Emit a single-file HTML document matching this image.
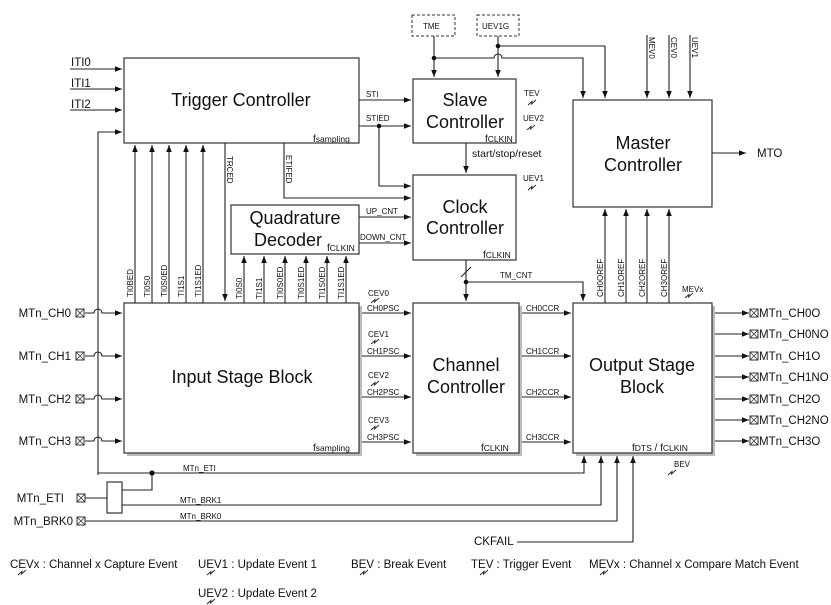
<!DOCTYPE html>
<html><head><meta charset="utf-8"><style>
html,body{margin:0;padding:0;background:#fff}
svg{display:block}
text{font-family:"Liberation Sans",sans-serif;fill:#111}
.t{font-size:18px;text-anchor:middle}
.s{font-size:8px}
.m{font-size:10.5px}
.l{font-size:11.5px}
</style></head><body>
<svg width="831" height="605" viewBox="0 0 831 605" xmlns="http://www.w3.org/2000/svg">
<defs>
<marker id="a" viewBox="0 0 10 10" refX="10" refY="5" markerWidth="7" markerHeight="7" markerUnits="userSpaceOnUse" orient="auto"><path d="M0,1 L10,5 L0,9z" fill="#111"/></marker>
<g id="z"><path d="M0,6 L4,2.5 L3.5,5 L8,1" fill="none" stroke="#222" stroke-width="0.9"/></g>
<g id="x"><rect x="0" y="0" width="8" height="8" fill="#fff" stroke="#333" stroke-width="1"/><path d="M0,0 L8,8 M8,0 L0,8" stroke="#333" stroke-width="0.8"/></g>
</defs>
<g fill="none" stroke="#333" stroke-width="1.2">
<rect x="127" y="306" width="235" height="150" fill="#bbb" stroke="none"/>
<rect x="416" y="306" width="106" height="150" fill="#bbb" stroke="none"/>
<rect x="576" y="306" width="139" height="150" fill="#bbb" stroke="none"/>
<rect x="124" y="58" width="235" height="85" fill="#fff"/>
<rect x="413" y="79" width="103" height="64" fill="#fff"/>
<rect x="413" y="175" width="103" height="85" fill="#fff"/>
<rect x="573" y="100" width="139" height="107" fill="#fff"/>
<rect x="231" y="205" width="128" height="49" fill="#fff"/>
<rect x="124" y="303" width="235" height="150" fill="#fff"/>
<rect x="413" y="303" width="106" height="150" fill="#fff"/>
<rect x="573" y="303" width="139" height="150" fill="#fff"/>
<rect x="412" y="15" width="43" height="21" stroke-dasharray="3,2" stroke-width="1"/>
<rect x="477" y="15" width="42" height="21" stroke-dasharray="3,2" stroke-width="1"/>
<rect x="107" y="482" width="15" height="31" fill="#fff"/>
</g>
<g fill="none" stroke="#222" stroke-width="1.1">
<path d="M70,69H122" marker-end="url(#a)"/>
<path d="M70,89H122" marker-end="url(#a)"/>
<path d="M70,110H122" marker-end="url(#a)"/>
<path d="M98,475V132H122" marker-end="url(#a)"/>
<path d="M359,100H411" marker-end="url(#a)"/>
<path d="M359,126H411" marker-end="url(#a)"/>
<path d="M379,126V186H411" marker-end="url(#a)"/>
<path d="M284,143V198H411" marker-end="url(#a)"/>
<path d="M359,217H411" marker-end="url(#a)"/>
<path d="M359,243H411" marker-end="url(#a)"/>
<path d="M434,36V77" marker-end="url(#a)"/>
<path d="M434,58H494 A4,4 0 0 1 502,58 H583V98" marker-end="url(#a)"/>
<path d="M498,36V77" marker-end="url(#a)"/>
<path d="M498,46H605V98" marker-end="url(#a)"/>
<path d="M647,35V98" marker-end="url(#a)"/>
<path d="M669,35V98" marker-end="url(#a)"/>
<path d="M690,35V98" marker-end="url(#a)"/>
<path d="M712,153H746" marker-end="url(#a)"/>
<path d="M466,143V173" marker-end="url(#a)"/>
<path d="M466,260V301" marker-end="url(#a)"/>
<path d="M461,277L471,267"/>
<path d="M466,282H583V301" marker-end="url(#a)"/>
<path d="M605,303V209" marker-end="url(#a)"/>
<path d="M626,303V209" marker-end="url(#a)"/>
<path d="M647,303V209" marker-end="url(#a)"/>
<path d="M669,303V209" marker-end="url(#a)"/>
<path d="M135,303V145" marker-end="url(#a)"/>
<path d="M152,303V145" marker-end="url(#a)"/>
<path d="M169,303V145" marker-end="url(#a)"/>
<path d="M186,303V145" marker-end="url(#a)"/>
<path d="M203,303V145" marker-end="url(#a)"/>
<path d="M225,143V301" marker-end="url(#a)"/>
<path d="M244,303V256" marker-end="url(#a)"/>
<path d="M264,303V256" marker-end="url(#a)"/>
<path d="M285,303V256" marker-end="url(#a)"/>
<path d="M306,303V256" marker-end="url(#a)"/>
<path d="M327,303V256" marker-end="url(#a)"/>
<path d="M346,303V256" marker-end="url(#a)"/>
<path d="M85,313H94A4,4 0 0 1 102,313H122" marker-end="url(#a)"/>
<path d="M85,356H94A4,4 0 0 1 102,356H122" marker-end="url(#a)"/>
<path d="M85,399H94A4,4 0 0 1 102,399H122" marker-end="url(#a)"/>
<path d="M85,441H94A4,4 0 0 1 102,441H122" marker-end="url(#a)"/>
<path d="M362,313H411" marker-end="url(#a)"/>
<path d="M362,356H411" marker-end="url(#a)"/>
<path d="M362,397H411" marker-end="url(#a)"/>
<path d="M362,442H411" marker-end="url(#a)"/>
<path d="M522,313H571" marker-end="url(#a)"/>
<path d="M522,356H571" marker-end="url(#a)"/>
<path d="M522,397H571" marker-end="url(#a)"/>
<path d="M522,442H571" marker-end="url(#a)"/>
<path d="M715,313H749" marker-end="url(#a)"/>
<path d="M715,334H749" marker-end="url(#a)"/>
<path d="M715,356H749" marker-end="url(#a)"/>
<path d="M715,377H749" marker-end="url(#a)"/>
<path d="M715,399H749" marker-end="url(#a)"/>
<path d="M715,420H749" marker-end="url(#a)"/>
<path d="M715,441H749" marker-end="url(#a)"/>
<path d="M98,473H584V456" marker-end="url(#a)"/>
<path d="M122,490H152V473"/>
<path d="M85,498H107"/>
<path d="M122,505H601V456" marker-end="url(#a)"/>
<path d="M85,521H617V456" marker-end="url(#a)"/>
<path d="M517,542H633V456" marker-end="url(#a)"/>
</g>
<g fill="#111">
<circle cx="379" cy="126" r="2.3"/><circle cx="434" cy="58" r="2.3"/><circle cx="498" cy="46" r="2.3"/>
<circle cx="466" cy="282" r="2.3"/><circle cx="152" cy="473" r="2.6"/>
</g>
<use href="#x" x="76" y="309"/><use href="#x" x="76" y="352"/><use href="#x" x="76" y="395"/><use href="#x" x="76" y="437"/>
<use href="#x" x="77" y="494"/><use href="#x" x="77" y="517"/>
<use href="#x" x="750" y="309"/><use href="#x" x="750" y="330"/><use href="#x" x="750" y="352"/><use href="#x" x="750" y="373"/><use href="#x" x="750" y="395"/><use href="#x" x="750" y="416"/><use href="#x" x="750" y="437"/>
<use href="#z" x="528" y="99"/><use href="#z" x="527" y="124"/><use href="#z" x="528" y="184"/>
<use href="#z" x="685" y="292"/><use href="#z" x="668" y="469"/>
<use href="#z" x="371" y="297"/><use href="#z" x="371" y="338"/><use href="#z" x="371" y="380"/><use href="#z" x="371" y="424"/>
<use href="#z" x="18" y="569"/><use href="#z" x="207" y="569"/><use href="#z" x="207" y="598"/><use href="#z" x="360" y="569"/><use href="#z" x="480" y="569"/><use href="#z" x="600" y="569"/>
<text class="t" x="241" y="106">Trigger Controller</text>
<text class="t" x="465" y="106">Slave</text><text class="t" x="465" y="128">Controller</text>
<text class="t" x="465" y="213">Clock</text><text class="t" x="465" y="234">Controller</text>
<text class="t" x="643" y="149">Master</text><text class="t" x="643" y="171">Controller</text>
<text class="t" x="295" y="224">Quadrature</text><text class="t" x="288" y="246">Decoder</text>
<text class="t" x="242" y="383">Input Stage Block</text>
<text class="t" x="466" y="371">Channel</text><text class="t" x="466" y="393">Controller</text>
<text class="t" x="642" y="371">Output Stage</text><text class="t" x="642" y="393">Block</text>
<text x="313" y="142" style="font-size:10px">f<tspan style="font-size:8.5px">sampling</tspan></text>
<text x="485" y="142" style="font-size:10px">f<tspan style="font-size:8.5px">CLKIN</tspan></text>
<text x="483" y="258" style="font-size:10px">f<tspan style="font-size:8.5px">CLKIN</tspan></text>
<text x="327" y="251" style="font-size:10px">f<tspan style="font-size:8.5px">CLKIN</tspan></text>
<text x="313" y="451" style="font-size:10px">f<tspan style="font-size:8.5px">sampling</tspan></text>
<text x="481" y="451" style="font-size:10px">f<tspan style="font-size:8.5px">CLKIN</tspan></text>
<text x="632" y="451" style="font-size:10px">f<tspan style="font-size:8.5px">DTS</tspan> / f<tspan style="font-size:8.5px">CLKIN</tspan></text>
<text class="s" x="366" y="97">STI</text>
<text class="s" x="366" y="121">STIED</text>
<text class="s" x="366" y="214">UP_CNT</text>
<text class="s" x="360" y="240">DOWN_CNT</text>
<text class="s" x="423" y="29">TME</text>
<text class="s" x="482" y="29">UEV1G</text>
<text class="s" x="524" y="96">TEV</text>
<text class="s" x="523" y="121">UEV2</text>
<text class="s" x="523" y="181">UEV1</text>
<text class="m" x="472" y="157">start/stop/reset</text>
<text class="s" x="500" y="278">TM_CNT</text>
<text class="s" x="682" y="292">MEVx</text>
<text class="s" x="674" y="467">BEV</text>
<text class="s" x="368" y="296">CEV0</text><text class="s" x="367" y="311">CH0PSC</text>
<text class="s" x="368" y="337">CEV1</text><text class="s" x="367" y="354">CH1PSC</text>
<text class="s" x="368" y="378">CEV2</text><text class="s" x="367" y="395">CH2PSC</text>
<text class="s" x="368" y="423">CEV3</text><text class="s" x="367" y="440">CH3PSC</text>
<text class="s" x="526" y="311">CH0CCR</text><text class="s" x="526" y="354">CH1CCR</text>
<text class="s" x="526" y="395">CH2CCR</text><text class="s" x="526" y="440">CH3CCR</text>
<text class="s" x="183" y="471">MTn_ETI</text>
<text class="s" x="180" y="503">MTn_BRK1</text>
<text class="s" x="180" y="519">MTn_BRK0</text>
<text class="l" x="757" y="157">MTO</text>
<text class="s" transform="translate(133,297) rotate(-90)">TI0BED</text>
<text class="s" transform="translate(150,297) rotate(-90)">TI0S0</text>
<text class="s" transform="translate(167,297) rotate(-90)">TI0S0ED</text>
<text class="s" transform="translate(184,297) rotate(-90)">TI1S1</text>
<text class="s" transform="translate(201,297) rotate(-90)">TI1S1ED</text>
<text class="s" transform="translate(242,299) rotate(-90)">TI0S0</text>
<text class="s" transform="translate(262,299) rotate(-90)">TI1S1</text>
<text class="s" transform="translate(283,299) rotate(-90)">TI0S0ED</text>
<text class="s" transform="translate(304,299) rotate(-90)">TI0S1ED</text>
<text class="s" transform="translate(325,299) rotate(-90)">TI1S0ED</text>
<text class="s" transform="translate(344,299) rotate(-90)">TI1S1ED</text>
<text class="s" transform="translate(227,156) rotate(90)">TRCED</text>
<text class="s" transform="translate(286,155) rotate(90)">ETIFED</text>
<text class="s" transform="translate(649,37) rotate(90)">MEV0</text>
<text class="s" transform="translate(671,37) rotate(90)">CEV0</text>
<text class="s" transform="translate(692,37) rotate(90)">UEV1</text>
<text class="s" transform="translate(603,297) rotate(-90)">CH0OREF</text>
<text class="s" transform="translate(624,297) rotate(-90)">CH1OREF</text>
<text class="s" transform="translate(645,297) rotate(-90)">CH2OREF</text>
<text class="s" transform="translate(667,297) rotate(-90)">CH3OREF</text>
<text class="l" x="71" y="66">ITI0</text>
<text class="l" x="71" y="87">ITI1</text>
<text class="l" x="71" y="108">ITI2</text>
<text class="l" x="71" y="317" text-anchor="end">MTn_CH0</text>
<text class="l" x="71" y="360" text-anchor="end">MTn_CH1</text>
<text class="l" x="71" y="403" text-anchor="end">MTn_CH2</text>
<text class="l" x="71" y="445" text-anchor="end">MTn_CH3</text>
<text class="l" x="64" y="502" text-anchor="end">MTn_ETI</text>
<text class="l" x="73" y="525" text-anchor="end">MTn_BRK0</text>
<text class="l" x="759" y="317">MTn_CH0O</text>
<text class="l" x="759" y="338">MTn_CH0NO</text>
<text class="l" x="759" y="360">MTn_CH1O</text>
<text class="l" x="759" y="381">MTn_CH1NO</text>
<text class="l" x="759" y="403">MTn_CH2O</text>
<text class="l" x="759" y="424">MTn_CH2NO</text>
<text class="l" x="759" y="445">MTn_CH3O</text>
<text class="l" x="474" y="545">CKFAIL</text>
<text class="l" x="10" y="568">CEVx : Channel x Capture Event</text>
<text class="l" x="198" y="568">UEV1 : Update Event 1</text>
<text class="l" x="198" y="597">UEV2 : Update Event 2</text>
<text class="l" x="351" y="568">BEV : Break Event</text>
<text class="l" x="471" y="568">TEV : Trigger Event</text>
<text class="l" x="589" y="568">MEVx : Channel x Compare Match Event</text>
</svg>
</body></html>
